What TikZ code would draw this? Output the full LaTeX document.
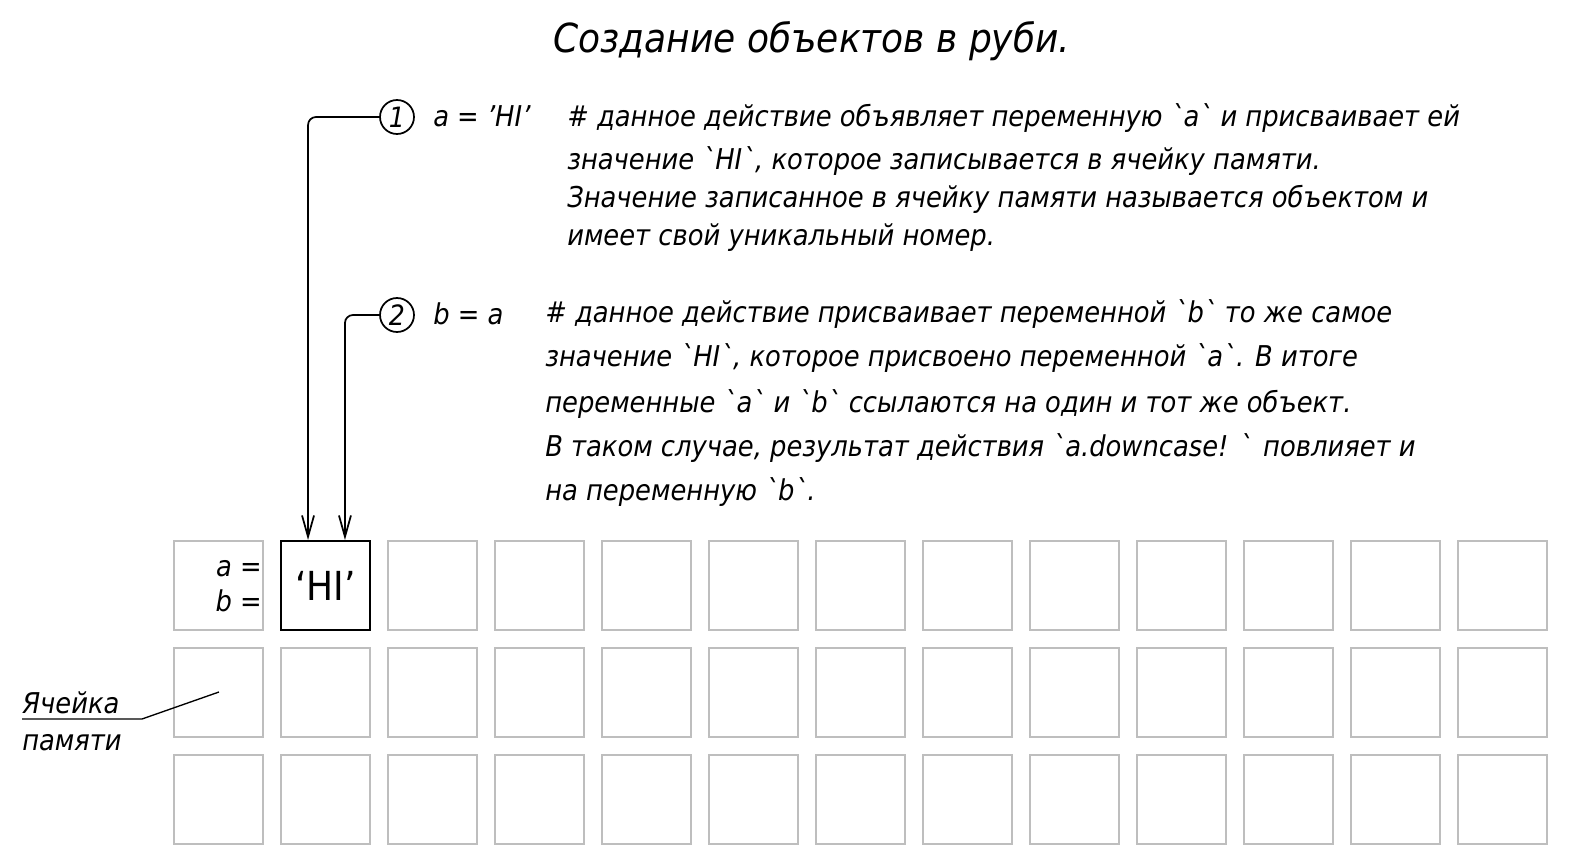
\documentclass[tikz,border=0pt]{standalone}
\usepackage{fontspec}
\setmainfont{DejaVu Sans Condensed}
\usetikzlibrary{arrows.meta,positioning,calc}
\definecolor{cellgray}{RGB}{190,190,190}
\newcommand{\bq}{\textasciigrave}
\tikzset{
  memcell/.style={draw=cellgray, line width=1.5pt, minimum size=66.75pt, inner sep=0pt},
  hicell/.style={draw=black, line width=1.5pt, minimum size=66.75pt, inner sep=0pt, font=\fontsize{30}{30}\selectfont},
  marker/.style={circle, draw, line width=1.3pt, minimum size=25.5pt, inner sep=0pt, font=\itshape\fontsize{21}{21}\selectfont},
  codetext/.style={anchor=base west, inner sep=0pt, font=\itshape\fontsize{21.5}{21.5}\selectfont},
  pointer/.style={line width=1.3pt, rounded corners=6pt, -{Straight Barb[length=16pt,width=9pt]}},
}
\begin{document}
\begin{tikzpicture}[x=0.75pt,y=0.75pt,yscale=-1]
  \useasboundingbox (0,0) rectangle (1572,864);

  % Title
  \node [anchor=base, inner sep=0pt, font=\itshape\fontsize{30}{30}\selectfont] (title) at (812,52) {Создание объектов в руби.};

  % Memory grid
  \foreach \c in {0,...,12}
    \foreach \r in {0,1,2}{
      \ifnum\c\r=10 \else
        \node [memcell] (cell-\r-\c) at (218.5+107*\c,585.5+107*\r) {};
      \fi
    }
  \node [hicell] (hi) at (325.5,585.5) {‘HI’};
  \node [codetext, anchor=base east] (lbla) at (262,576) {a =};
  \node [codetext, anchor=base east] (lblb) at (262,611) {b =};

  % Step 1
  \node [marker] (m1) at (397,117) {1};
  \node [codetext] (code1) at (433,126) {a = 'HI'};
  \node [codetext] (t11) at (567,126) {\# данное действие объявляет переменную \bq a\bq{} и присваивает ей};
  \node [codetext] (t12) at (567,169) {значение \bq HI\bq, которое записывается в ячейку памяти.};
  \node [codetext] (t13) at (567,207) {Значение записанное в ячейку памяти называется объектом и};
  \node [codetext] (t14) at (567,245) {имеет свой уникальный номер.};

  % Step 2
  \node [marker] (m2) at (397,315) {2};
  \node [codetext] (code2) at (433,324) {b = a};
  \node [codetext] (t21) at (545,322) {\# данное действие присваивает переменной \bq b\bq{} то же самое};
  \node [codetext] (t22) at (545,366) {значение \bq HI\bq, которое присвоено переменной \bq a\bq. В итоге};
  \node [codetext] (t23) at (545,412) {переменные \bq a\bq{} и \bq b\bq{} ссылаются на один и тот же объект.};
  \node [codetext] (t24) at (545,456) {В таком случае, результат действия \bq a.downcase! \bq{} повлияет и};
  \node [codetext] (t25) at (545,500) {на переменную \bq b\bq.};

  % Pointers
  \draw [pointer] (m1.west) -| ([xshift=-13.1pt]hi.north);
  \draw [pointer] (m2.west) -| ([xshift=14.6pt]hi.north);

  % Leader label
  \node [codetext] (lblcell) at (22,713) {Ячейка};
  \node [codetext] (lblmem) at (22,750) {памяти};
  \coordinate (knee) at (142,719);
  \coordinate (tip) at (219,692);
  \draw [line width=1pt] (lblcell.west |- knee) -- (knee) -- (tip);
\end{tikzpicture}
\end{document}
